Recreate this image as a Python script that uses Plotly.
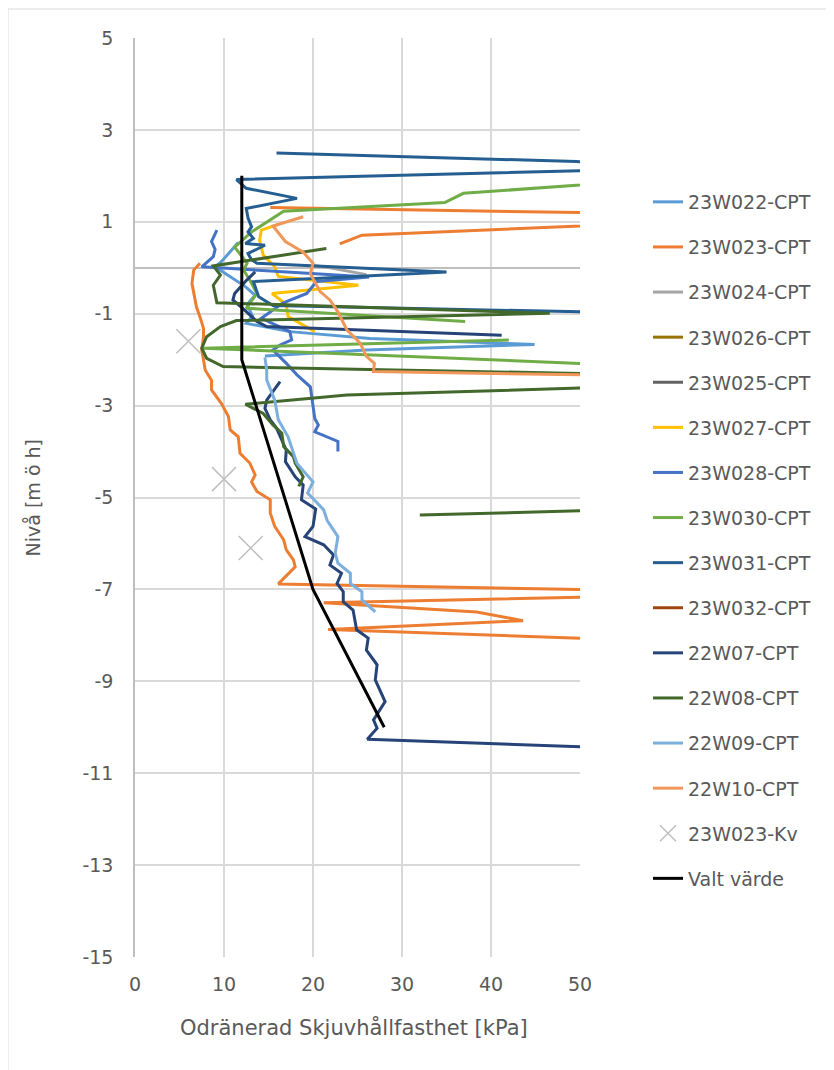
import plotly.graph_objects as go

# ---------------- data ----------------
w022_x = [11.6, 9.7, 9.0, 12.4, 13.5, 12.6, 13.2, 12.5, 17.4, 26.4, 44.9, 26.0, 14.6]
w022_y = [0.55, 0.13, 0.02, -0.41, -0.6, -0.8, -1.05, -1.21, -1.39, -1.54, -1.67, -1.79, -1.92]

w023_x = [15.2, 60, 60, 25.5, 23.0, None, 7.3, 6.6, 6.4, 6.7, 6.9, 7.3, 7.7, 7.7, 7.5, 7.9, 8.6, 8.6,
          9.7, 10.5, 10.7, 11.6, 11.8, 12.9, 13.5, 13.1, 13.7, 15.2, 15.2, 15.7, 16.7, 17.0, 17.8, 18.0,
          16.1, 60, 60, 21.2, 38.4, 43.6, 21.7, 60]
w023_y = [1.31, 1.17, 0.99, 0.71, 0.52, None, 0.10, -0.05, -0.34, -0.63, -0.85, -1.07, -1.32, -1.5,
          -1.79, -2.23, -2.45, -2.66, -2.95, -3.24, -3.53, -3.68, -4.04, -4.25, -4.51, -4.66, -4.87,
          -5.05, -5.34, -5.63, -5.92, -6.14, -6.36, -6.51, -6.88, -7.04, -7.13, -7.29, -7.49, -7.68,
          -7.87, -8.13]

w024_x = [20.0, 21.9, 26.0]
w024_y = [0.05, 0.0, -0.15]

# series that are hidden behind the others in the reference
w026_x, w026_y = [None], [None]
w025_x, w025_y = [None], [None]

w027_x = [16.5, 14.2, 14.0, 14.4, 15.7, 16.1, 25.1, 15.4, 17.0, 17.2, 20.2]
w027_y = [0.97, 0.82, 0.6, 0.28, 0.02, -0.19, -0.38, -0.56, -0.8, -1.06, -1.39]

w028_x = [9.2, 8.6, 9.0, 8.8, 7.5, 26.3, 20.4, 19.3, 16.6, 15.5, 14.2, 17.4, 17.6, 16.3, 15.5, 17.0,
          18.2, 19.7, 20.0, 20.2, 20.6, 20.2, 22.8, 22.8]
w028_y = [0.82, 0.57, 0.4, 0.24, 0.02, -0.2, -0.3, -0.56, -0.77, -0.93, -1.1, -1.39, -1.57, -1.68,
          -1.79, -2.08, -2.33, -2.59, -2.95, -3.28, -3.42, -3.57, -3.78, -4.0]

w030_x = [60, 36.9, 34.8, 16.7, 13.1, 11.2, 12.6, 12.2, 12.9, 13.7, 12.5, 37.1, None, 42.0, 7.7, 60]
w030_y = [1.94, 1.62, 1.42, 1.23, 0.78, 0.45, 0.10, -0.05, -0.27, -0.56, -0.88, -1.17, None, -1.57,
          -1.75, -2.16]

w031_x = [15.9, 49.6, 60, 60, 11.4, 12.5, 18.2, 12.5, 12.7, 13.1, 12.7, 13.3, 12.4, 14.6, 12.7, 13.1,
          13.7, 35.0, 13.3, 13.9, 15.5, 60]
w031_y = [2.50, 2.31, 2.22, 2.16, 1.92, 1.73, 1.51, 1.29, 1.08, 0.89, 0.78, 0.64, 0.53, 0.49, 0.31,
          0.17, 0.10, -0.09, -0.30, -0.63, -0.82, -1.0]

w032_x, w032_y = [None], [None]

w07_x = [13.5, 12.4, 11.2, 11.0, 12.2, 13.7, 14.8, 41.2, None, 16.3, 14.8, 14.6, 15.2, 15.9, 16.3,
         17.0, 16.9, 18.0, 18.9, 18.7, 20.3, 20.0, 19.1, 21.2, 22.3, 21.9, 23.2, 22.7, 23.4, 23.4,
         24.5, 24.9, 26.2, 26.0, 27.2, 27.0, 28.1, 26.8, 27.2, 26.1, 60]
w07_y = [-0.09, -0.30, -0.56, -0.70, -0.90, -1.17, -1.28, -1.47, None, -2.48, -2.88, -3.06, -3.31,
         -3.49, -3.68, -3.97, -4.22, -4.55, -4.73, -5.05, -5.25, -5.63, -5.85, -6.03, -6.25, -6.47,
         -6.65, -6.87, -7.05, -7.27, -7.45, -7.88, -8.06, -8.32, -8.64, -8.97, -9.44, -9.84, -10.02,
         -10.26, -10.49]

w08_x = [21.5, 8.8, 9.6, 8.8, 9.2, 46.6, 11.4, 9.6, 8.05, 7.5, 8.05, 9.9, 60, 60, 23.8, 12.4, 14.4,
         15.5, 16.5, 16.7, 17.8, 18.0, 18.9, 18.4, None, 32.0, 60]
w08_y = [0.42, 0.04, -0.16, -0.38, -0.76, -0.99, -1.15, -1.28, -1.50, -1.75, -1.97, -2.15, -2.34,
         -2.56, -2.77, -2.97, -3.17, -3.42, -3.60, -3.89, -4.11, -4.25, -4.55, -4.76, None, -5.38,
         -5.24]

w09_x = [14.6, 14.8, 14.8, 15.7, 16.1, 17.2, 18.2, 20.0, 19.4, 21.2, 21.6, 22.8, 22.5, 22.8, 24.2,
         24.2, 25.5, 25.5, 27.0]
w09_y = [-1.95, -2.23, -2.44, -2.88, -3.31, -3.68, -4.26, -4.66, -4.9, -5.27, -5.5, -5.85, -6.21,
         -6.43, -6.65, -6.87, -7.05, -7.23, -7.49]

w10_x = [18.9, 15.5, 16.9, 18.9, 20.0, 19.7, 20.8, 21.9, 22.8, 23.8, 25.3, 26.0, 26.9, 26.8, 60]
w10_y = [1.11, 0.91, 0.57, 0.34, 0.10, -0.13, -0.52, -0.70, -0.96, -1.35, -1.64, -1.93, -2.08,
         -2.26, -2.36]

kv_x = [6, 10, 13]
kv_y = [-1.6, -4.6, -6.1]

valt_x = [12, 12, 20, 28]
valt_y = [2, -2, -7, -10]

y_ticks = [5, 3, 1, -1, -3, -5, -7, -9, -11, -13, -15]
x_ticks = [0, 10, 20, 30, 40, 50]

series = [
    ("23W022-CPT", w022_x, w022_y, "#5B9BD5"),
    ("23W023-CPT", w023_x, w023_y, "#ED7D31"),
    ("23W024-CPT", w024_x, w024_y, "#A5A5A5"),
    ("23W026-CPT", w026_x, w026_y, "#997300"),
    ("23W025-CPT", w025_x, w025_y, "#636363"),
    ("23W027-CPT", w027_x, w027_y, "#FFC000"),
    ("23W028-CPT", w028_x, w028_y, "#4472C4"),
    ("23W030-CPT", w030_x, w030_y, "#70AD47"),
    ("23W031-CPT", w031_x, w031_y, "#255E91"),
    ("23W032-CPT", w032_x, w032_y, "#9E480E"),
    ("22W07-CPT", w07_x, w07_y, "#264478"),
    ("22W08-CPT", w08_x, w08_y, "#43682B"),
    ("22W09-CPT", w09_x, w09_y, "#7CAFDD"),
    ("22W10-CPT", w10_x, w10_y, "#F1975A"),
]

FONT = "DejaVu Sans"
TXT = "#595959"

fig = go.Figure()
for i, (name, xs, ys, col) in enumerate(series):
    fig.add_trace(go.Scatter(x=xs, y=ys, mode="lines", name=name, legendgroup=f"g{i}",
                             line=dict(color=col, width=3), connectgaps=False, showlegend=True))

fig.add_trace(go.Scatter(x=kv_x, y=kv_y, mode="markers", name="23W023-Kv", legendgroup="gkv",
                         marker=dict(symbol="x-thin", size=24, line=dict(color="#BFBFBF", width=1.5),
                                     color="#BFBFBF")))
fig.add_trace(go.Scatter(x=valt_x, y=valt_y, mode="lines", name="Valt värde", legendgroup="gvalt",
                         line=dict(color="#000000", width=3)))

# the page has an 8 px body margin, so figure coords = screen coords - 8
W, H = 826, 1062
L, R, T, B = 127, 572, 30, 949
pw, ph = R - L, B - T

fig.update_layout(
    width=W, height=H,
    margin=dict(l=L, r=W - R, t=T, b=H - B, autoexpand=False),
    paper_bgcolor="white", plot_bgcolor="white",
    font=dict(family=FONT, size=19, color=TXT),
    showlegend=True,
    legend=dict(x=(640 - L) / pw, y=1 - (175 - T) / ph, xanchor="left", yanchor="top",
                traceorder="grouped", tracegroupgap=17.4, font=dict(size=19, color=TXT),
                bgcolor="rgba(0,0,0,0)"),
    xaxis=dict(range=[0, 50], tickvals=x_ticks, ticktext=[str(v) for v in x_ticks], ticks="",
               showgrid=True, gridcolor="#D9D9D9", gridwidth=1.5, zeroline=False, showline=False,
               ticklabelstandoff=14, tickfont=dict(size=19, color=TXT)),
    yaxis=dict(range=[-15, 5], tickvals=y_ticks, ticktext=[str(v) for v in y_ticks], ticks="",
               showgrid=True, gridcolor="#D9D9D9", gridwidth=1.5, zeroline=True,
               zerolinecolor="#BFBFBF", zerolinewidth=2, showline=True, linecolor="#BFBFBF",
               linewidth=1.5, ticklabelstandoff=16, tickfont=dict(size=19, color=TXT)),
    annotations=[
        dict(text="Odränerad Skjuvhållfasthet [kPa]", xref="paper", yref="paper",
             x=(346 - L) / pw, y=(B - 1019) / ph, xanchor="center", yanchor="middle",
             showarrow=False, font=dict(size=21, color=TXT)),
        dict(text="Nivå [m ö h]", xref="paper", yref="paper", x=(24 - L) / pw, y=0.5,
             xanchor="center", yanchor="middle", textangle=-90, showarrow=False,
             font=dict(size=19, color=TXT)),
    ],
    shapes=[dict(type="rect", xref="paper", yref="paper", x0=(0 - L) / pw, x1=(860 - L) / pw,
                 y0=(B - 1090) / ph, y1=1 + (T - 1) / ph, line=dict(color="#D9D9D9", width=1),
                 layer="below")],
)

fig.write_html("out.html")
